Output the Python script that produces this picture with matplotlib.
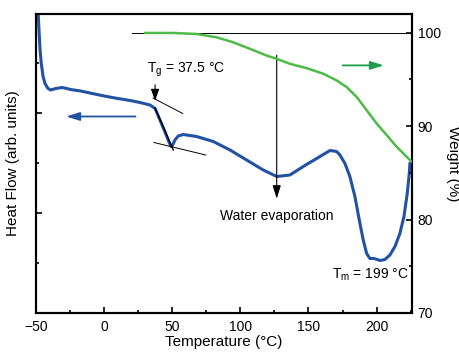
import matplotlib
matplotlib.use('Agg')
import matplotlib.pyplot as plt
from matplotlib.ticker import MultipleLocator

plt.rcParams['font.family'] = ['Liberation Sans', 'DejaVu Sans']

# DSC heat flow (arb. units), left axis
temp_dsc = [-48.5, -47.8, -47.0, -46.1, -44.8, -43.4, -41.2, -39.2, -35.5, -30.7,
            -24.5, -17.2, -8.7, 0.0, 8.0, 19.0, 26.3, 33.7, 37.4, 41.0,
            44.7, 47.6, 49.1, 50.3, 52.0, 54.4, 58.1, 67.9, 80.1, 92.4,
            104.6, 116.8, 126.7, 136.4, 146.2, 156.0, 165.8, 170.7, 173.1, 176.8,
            180.4, 184.1, 187.3, 190.2, 192.7, 195.1, 198.1, 200.5, 202.5, 206.1,
            209.8, 213.5, 217.1, 220.1, 222.5, 224.0, 224.5]
heat_flow = [6.06, 5.66, 5.26, 4.99, 4.73, 4.59, 4.49, 4.46, 4.49, 4.51,
             4.47, 4.44, 4.39, 4.34, 4.30, 4.25, 4.21, 4.16, 4.09, 3.86,
             3.62, 3.42, 3.33, 3.36, 3.46, 3.54, 3.57, 3.53, 3.43, 3.26,
             3.06, 2.86, 2.73, 2.76, 2.93, 3.09, 3.25, 3.23, 3.16, 2.99,
             2.73, 2.33, 1.86, 1.46, 1.19, 1.09, 1.09, 1.07, 1.05, 1.07,
             1.16, 1.33, 1.59, 1.93, 2.39, 2.79, 3.00]

# TGA weight (%), right axis
temp_tga = [30.0, 50.8, 67.9, 82.6, 94.8, 107.1, 119.3, 126.7, 136.4, 148.7,
            160.8, 170.7, 178.0, 185.4, 192.7, 200.0, 207.4, 214.7, 222.0, 225.7]
weight = [99.97, 99.97, 99.86, 99.50, 98.97, 98.27, 97.55, 97.20, 96.67, 96.20,
          95.61, 94.89, 94.18, 93.12, 91.70, 90.29, 89.04, 87.80, 86.73, 86.20]

blue = '#2152a3'
green = '#4cbb47'
arrow_green = '#1d9e4f'

fig = plt.figure(figsize=(4.59, 3.58), dpi=100)
ax1 = fig.add_axes([0.0784, 0.1257, 0.8192, 0.8352])
ax2 = ax1.twinx()

ax1.plot(temp_dsc, heat_flow, color=blue, lw=2.2, solid_joinstyle='round',
         solid_capstyle='round', zorder=3)
ax2.plot(temp_tga, weight, color=green, lw=1.8, solid_joinstyle='round', zorder=3)

ax1.set_xlim(-50, 226)
ax1.set_ylim(0, 5.98)
ax2.set_ylim(70, 102)

# reference line at 100 %
ax2.plot([20.3, 226], [100, 100], color='black', lw=0.7, zorder=2)

# Tg construction lines
ax1.plot([35.9, 57.7], [4.30, 3.99], color='black', lw=0.7, zorder=4)
ax1.plot([36.6, 74.6], [3.41, 3.16], color='black', lw=0.7, zorder=4)
ax1.plot([37.4, 50.8], [4.10, 3.26], color='black', lw=1.0, zorder=4)

ax1.annotate('', xy=(37.4, 4.19), xytext=(37.4, 4.62),
             arrowprops=dict(arrowstyle='-|>,head_width=0.25,head_length=0.7',
                             color='black', lw=0.8))
ax1.text(31.5, 4.86, 'T$_\\mathregular{g}$ = 37.5 °C', fontsize=10, va='center', ha='left')

# water evaporation arrow
ax1.annotate('', xy=(126.7, 2.23), xytext=(126.7, 5.21),
             arrowprops=dict(arrowstyle='-|>,head_width=0.25,head_length=0.8',
                             color='black', lw=0.8))
ax1.text(126.7, 1.94, 'Water evaporation', fontsize=10, va='center', ha='center')

ax1.text(167, 0.76, 'T$_\\mathregular{m}$ = 199 °C', fontsize=10, va='center', ha='left')

# axis direction arrows
ax1.annotate('', xy=(-29.9, 3.93), xytext=(25.1, 3.93),
             arrowprops=dict(arrowstyle='-|>,head_width=0.25,head_length=0.8',
                             color=blue, lw=1.3))
ax2.annotate('', xy=(207.4, 96.5), xytext=(173.1, 96.5),
             arrowprops=dict(arrowstyle='-|>,head_width=0.25,head_length=0.8',
                             color=arrow_green, lw=1.3))

ax1.xaxis.set_major_locator(MultipleLocator(50))
ax1.xaxis.set_minor_locator(MultipleLocator(25))
ax1.yaxis.set_major_locator(MultipleLocator(2))
ax1.yaxis.set_minor_locator(MultipleLocator(1))
ax1.set_yticklabels([])
ax2.yaxis.set_major_locator(MultipleLocator(10))
ax2.yaxis.set_minor_locator(MultipleLocator(5))

for ax in (ax1, ax2):
    for sp in ax.spines.values():
        sp.set_linewidth(1.5)
    ax.tick_params(which='both', direction='in', width=1.2, labelsize=10)
    ax.tick_params(which='major', length=4)
    ax.tick_params(which='minor', length=2.5)
ax1.tick_params(axis='x', pad=5)
ax2.tick_params(axis='y', pad=4)

ax1.set_xlabel('Temperature (°C)', fontsize=11, labelpad=1)
ax1.set_ylabel('Heat Flow (arb. units)', fontsize=11, labelpad=8)
ax2.set_ylabel('Weight (%)', fontsize=11, rotation=270, labelpad=14)

fig.savefig('out.png', dpi=100)
